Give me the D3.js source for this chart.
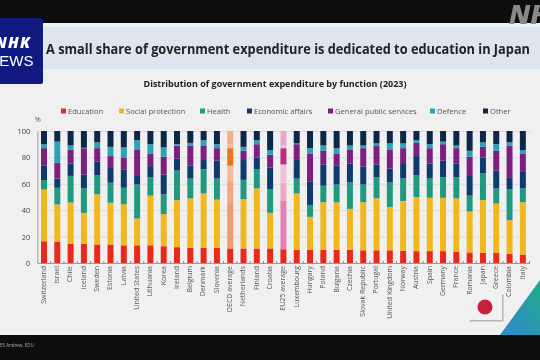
<!DOCTYPE html>
<html>
<head>
<meta charset="utf-8">
<script src="https://cdn.jsdelivr.net/npm/d3@7"></script>
<style>
  html, body { margin: 0; padding: 0; background: #0d0d0d; }
  svg { display: block; filter: blur(0.6px); }
  text { font-family: "Open Sans", sans-serif; }
</style>
</head>
<body>
<svg id="chart" width="540" height="360"></svg>
<script>
const countries = ["Switzerland", "Israel", "Chile", "Iceland", "Sweden", "Estonia", "Latvia", "United States", "Lithuania", "Korea", "Ireland", "Belgium", "Denmark", "Slovenia", "OECD average", "Netherlands", "Finland", "Croatia", "EU25 average", "Luxembourg", "Hungary", "Poland", "Bulgaria", "Czechia", "Slovak Republic", "Portugal", "United Kingdom", "Norway", "Austria", "Spain", "Germany", "France", "Romania", "Japan", "Greece", "Colombia", "Italy"];

const education = [16.5, 16, 14.7, 14.4, 14, 14, 13.4, 13.4, 13.4, 12.7, 12, 11.4, 11.4, 11.4, 11, 11, 11, 11, 10.4, 10, 10, 10, 10, 10, 9.6, 9.6, 9.6, 9.4, 9, 9, 9, 8.4, 8, 7.6, 7.6, 7, 6.4];
const social = [39.2, 28.3, 31.1, 23.6, 38, 31.6, 31.1, 20.3, 37.6, 24.3, 35.6, 37.6, 41.3, 36.6, 35, 37.4, 45.5, 27, 36.6, 42.7, 25, 36, 36, 31, 36.4, 39.4, 32.9, 37.6, 41, 40.4, 40.4, 40.6, 31, 40, 37.4, 25.4, 39.6];
const health = [7.1, 12.7, 20.2, 18.5, 14.6, 15.2, 12.5, 25.8, 14, 15, 22.4, 15, 18.3, 16, 16, 14.6, 14.5, 17.7, 14, 11.3, 9, 12.5, 13.5, 20, 13.5, 16, 18.5, 17, 16.6, 14.6, 15.6, 16, 12, 20.4, 11.5, 23.6, 10.5];
const economic = [11.2, 7, 9.4, 10.5, 10.4, 11.2, 14, 7.1, 8.4, 15, 9, 10, 7, 13.5, 11.7, 15, 9, 16.7, 13.7, 14, 17.5, 16.2, 14.5, 14.4, 13.5, 9.7, 10.6, 11, 14.4, 11.4, 12.5, 10.4, 15.6, 12, 13.5, 9, 12.5];
const publicServices = [13, 12, 10.6, 20, 10, 9, 9, 19, 9.6, 13.5, 9.9, 15, 11, 9.5, 13.3, 7, 10, 9.6, 12.3, 12, 21.5, 10.3, 9, 10.2, 14, 13.9, 14, 12, 10, 11.6, 12.5, 11.6, 13.9, 8, 15, 24, 14];
const defence = [3, 16, 3, 0.3, 4.4, 7, 7.6, 7.4, 7, 7.1, 1.1, 2, 4, 3, 3, 3, 3, 3.6, 2, 0.6, 4, 4, 4, 3.4, 2, 2, 5, 3.6, 2, 3, 2, 2, 4.5, 3.4, 5, 2.4, 2.6];
const other = [10, 8, 11, 12.7, 8.6, 12, 12.4, 7, 10, 12.4, 10, 9, 7, 10, 10, 12, 7, 14.4, 11, 9.4, 13, 11, 13, 11, 11, 9.4, 9.4, 9.4, 7, 10, 8, 11, 15, 8.6, 10, 8.6, 14.4];

const seriesNames = ["Education", "Social protection", "Health", "Economic affairs", "General public services", "Defence", "Other"];
const seriesValues = [education, social, health, economic, publicServices, defence, other];
const seriesColors = ["#e8291c", "#f1b71c", "#1f9a80", "#0f3a6e", "#7d1f80", "#2ba3b5", "#0d2748"];
const oecdColors = ["#e8291c", "#f19c6e", "#f2a983", "#f4bb9d", "#ee7420", "#f4bb9d", "#f3b08c"];
const euColors = ["#e8291c", "#e67fb2", "#eca7c9", "#f0c0d8", "#bd2b7d", "#f0c0d8", "#eba6c8"];
const legendX = [61, 119, 200, 247, 328, 430, 483];

const yTicks = [0, 20, 40, 60, 80, 100];

const svg = d3.select("#chart");

// slide background
svg.append("rect").attr("width", 540).attr("height", 360).attr("fill", "#0d0d0d");
svg.append("rect").attr("y", 23).attr("width", 540).attr("height", 312).attr("fill", "#f0f0f0");
svg.append("rect").attr("x", 44).attr("y", 27).attr("width", 496).attr("height", 42).attr("fill", "#dce6ec");

// corner wedge
const grad = svg.append("defs").append("linearGradient")
  .attr("id", "wedge").attr("x1", 0).attr("y1", 1).attr("x2", 1).attr("y2", 0);
grad.append("stop").attr("offset", "0.3").attr("stop-color", "#2e8fc0");
grad.append("stop").attr("offset", "0.8").attr("stop-color", "#23a596");
svg.append("path").attr("d", "M500,335L540,280V335Z").attr("fill", "url(#wedge)");

// logo
svg.append("rect").attr("x", -5).attr("y", 18).attr("width", 48).attr("height", 66).attr("rx", 2).attr("fill", "#10197f");
svg.append("text").attr("x", -5).attr("y", 48).attr("fill", "#fff")
  .attr("font-size", 15).attr("font-weight", 800).attr("font-style", "italic").attr("textLength", 35).text("NHK");
svg.append("text").attr("x", -11.5).attr("y", 66).attr("fill", "#fff")
  .style("font-family", "Liberation Sans").attr("font-size", 15).text("NEWS");

// watermark
svg.append("text").attr("x", 509).attr("y", 24).attr("fill", "#8a8a8a")
  .attr("font-size", 27).attr("font-weight", 800).attr("font-style", "italic").text("NHK");

svg.append("text").attr("x", 46).attr("y", 53.5).attr("fill", "#222")
  .attr("font-size", 15).attr("font-weight", 700)
  .attr("textLength", 484).attr("lengthAdjust", "spacingAndGlyphs")
  .text("A small share of government expenditure is dedicated to education in Japan");
svg.append("text").attr("x", 275).attr("y", 87).attr("text-anchor", "middle").attr("fill", "#222")
  .attr("font-size", 9.2).attr("font-weight", 700)
  .attr("textLength", 263).attr("lengthAdjust", "spacingAndGlyphs")
  .text("Distribution of government expenditure by function (2023)");

// legend
seriesNames.forEach((name, i) => {
  svg.append("rect").attr("x", legendX[i]).attr("y", 108.5).attr("width", 5).attr("height", 5).attr("fill", seriesColors[i]);
  svg.append("text").attr("x", legendX[i] + 7).attr("y", 114).attr("fill", "#555").attr("font-size", 7.6).text(name);
});

const x = d3.scaleBand()
  .domain(countries)
  .range([37.35, 529.5])
  .paddingInner(0.55)
  .paddingOuter(0.275);

const y = d3.scaleLinear()
  .domain([0, 100])
  .range([263, 131]);

// gridlines + y axis
const yAxis = d3.axisLeft(y).tickValues(yTicks).tickSize(-492).tickPadding(7);
const yG = svg.append("g").attr("transform", "translate(37.35,0)").call(yAxis);
yG.select(".domain").attr("stroke", "#999");
yG.selectAll(".tick line").attr("stroke", "#dcdcdc");
yG.selectAll(".tick text").attr("fill", "#444").attr("font-size", 7.5);
svg.append("text").attr("x", 38).attr("y", 122).attr("text-anchor", "middle").attr("fill", "#555").attr("font-size", 7).text("%");

// stacked bars
const rows = countries.map((c, i) => {
  const row = { country: c };
  seriesNames.forEach((s, k) => { row[s] = seriesValues[k][i]; });
  return row;
});
const stacked = d3.stack().keys(seriesNames)(rows);

function barColor(country, k) {
  if (country === "OECD average") return oecdColors[k];
  if (country === "EU25 average") return euColors[k];
  return seriesColors[k];
}

svg.selectAll("g.layer")
  .data(stacked)
  .enter()
  .append("g")
  .attr("class", "layer")
  .each(function (layer, k) {
    d3.select(this).selectAll("rect")
      .data(layer)
      .enter()
      .append("rect")
      .attr("x", (d) => x(d.data.country))
      .attr("y", (d) => y(d[1]))
      .attr("width", x.bandwidth())
      .attr("height", (d) => y(d[0]) - y(d[1]))
      .attr("fill", (d) => barColor(d.data.country, k));
  });

// japan flag
svg.append("rect").attr("x", 468).attr("y", 293).attr("width", 34).attr("height", 27).attr("fill", "#b5b5b5").attr("transform", "translate(1.5,1.5)");
svg.append("rect").attr("x", 468).attr("y", 293).attr("width", 34).attr("height", 27).attr("fill", "#f1f1f1");
svg.append("circle").attr("cx", 485).attr("cy", 307).attr("r", 7.5).attr("fill", "#c8203a");

// x axis
const xAxis = d3.axisBottom(x).tickSize(0).tickPadding(4);
const xG = svg.append("g").attr("transform", "translate(0,263)").call(xAxis);
xG.select(".domain").attr("stroke", "#999");
xG.selectAll(".tick text")
  .attr("fill", "#555")
  .attr("font-size", 7)
  .attr("text-anchor", "end")
  .attr("dominant-baseline", "middle")
  .attr("transform", "rotate(-90)")
  .attr("x", -3)
  .attr("y", 0)
  .attr("dy", 0);

// small ticks between the bars
svg.append("g").selectAll("line")
  .data(countries)
  .enter()
  .append("line")
  .attr("x1", (d) => x(d) + x.step() - (x.step() - x.bandwidth()) / 2)
  .attr("x2", (d) => x(d) + x.step() - (x.step() - x.bandwidth()) / 2)
  .attr("y1", 261)
  .attr("y2", 263)
  .attr("stroke", "#888");

// source line
svg.append("text").attr("x", 0).attr("y", 347).attr("fill", "#aaa").attr("font-size", 4.5).text("ES Andrew, EDU");
</script>
</body>
</html>
